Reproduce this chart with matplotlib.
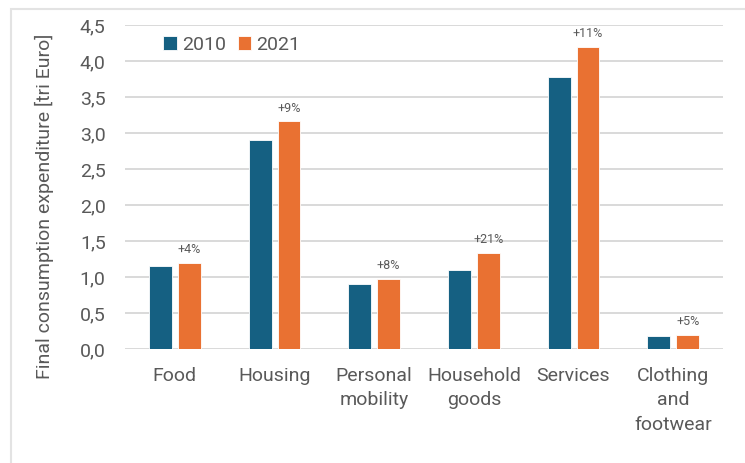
import numpy as np
import matplotlib.pyplot as plt
from matplotlib.patches import Rectangle

plt.rcParams['font.family'] = ['Roboto', 'DejaVu Sans']

categories = ['Food', 'Housing', 'Personal\nmobility', 'Household\ngoods',
              'Services', 'Clothing\nand\nfootwear']
spend_2010 = [1.15, 2.90, 0.90, 1.10, 3.78, 0.18]
spend_2021 = [1.20, 3.16, 0.97, 1.34, 4.20, 0.19]
growth_labels = ['+4%', '+9%', '+8%', '+21%', '+11%', '+5%']
y_ticks = [0.0, 0.5, 1.0, 1.5, 2.0, 2.5, 3.0, 3.5, 4.0, 4.5]

blue = '#156082'
orange = '#E97132'
grey_text = '#595959'
grid_grey = '#d9d9d9'

fig = plt.figure(figsize=(7.45, 4.63), dpi=100)
ax = fig.add_axes([0.1678, 0.2462, 0.8027, 0.6998])

x = np.arange(len(categories))
w = 0.23
gap = 0.06
b1 = ax.bar(x - (w + gap) / 2, spend_2010, width=w, color=blue,
            edgecolor='white', linewidth=0.6, label='2010', zorder=3)
b2 = ax.bar(x + (w + gap) / 2, spend_2021, width=w, color=orange,
            edgecolor='white', linewidth=0.6, label='2021', zorder=3)

for rect, txt in zip(b2, growth_labels):
    ax.annotate(txt, (rect.get_x() + rect.get_width() / 2, rect.get_height()),
                xytext=(0, 5), textcoords='offset points', ha='center',
                va='bottom', fontsize=9, color=grey_text)

ax.set_xlim(-0.5, len(categories) - 0.5)
ax.set_ylim(0, 4.5)
ax.set_yticks(y_ticks)
ax.set_yticklabels([f'{v:.1f}'.replace('.', ',') for v in y_ticks])
ax.set_xticks(x)
ax.set_xticklabels(categories, linespacing=1.45)
ax.tick_params(axis='both', length=0, labelsize=14, colors=grey_text)
ax.tick_params(axis='y', pad=14)
ax.tick_params(axis='x', pad=13)
ax.yaxis.grid(True, color=grid_grey, linewidth=1.4, zorder=0)
for s in ax.spines.values():
    s.set_visible(False)

ax.set_ylabel('Final consumption expenditure [tri Euro]', fontsize=14,
              color=grey_text)
ax.yaxis.set_label_coords(-0.119, 0.441)

ax.legend(loc='upper left', bbox_to_anchor=(0.035, 1.02), ncol=2,
          frameon=False, fontsize=14, handlelength=0.7, handleheight=0.7,
          handletextpad=0.25, columnspacing=0.6, labelcolor=grey_text)

# chart area frame
fig.patches.append(Rectangle((11 / 745, -0.1), 1.0, 1.1 - 9 / 463,
                             transform=fig.transFigure, fill=False,
                             edgecolor='#e3e3e3', linewidth=1.5))

fig.savefig('out.png', dpi=100)
